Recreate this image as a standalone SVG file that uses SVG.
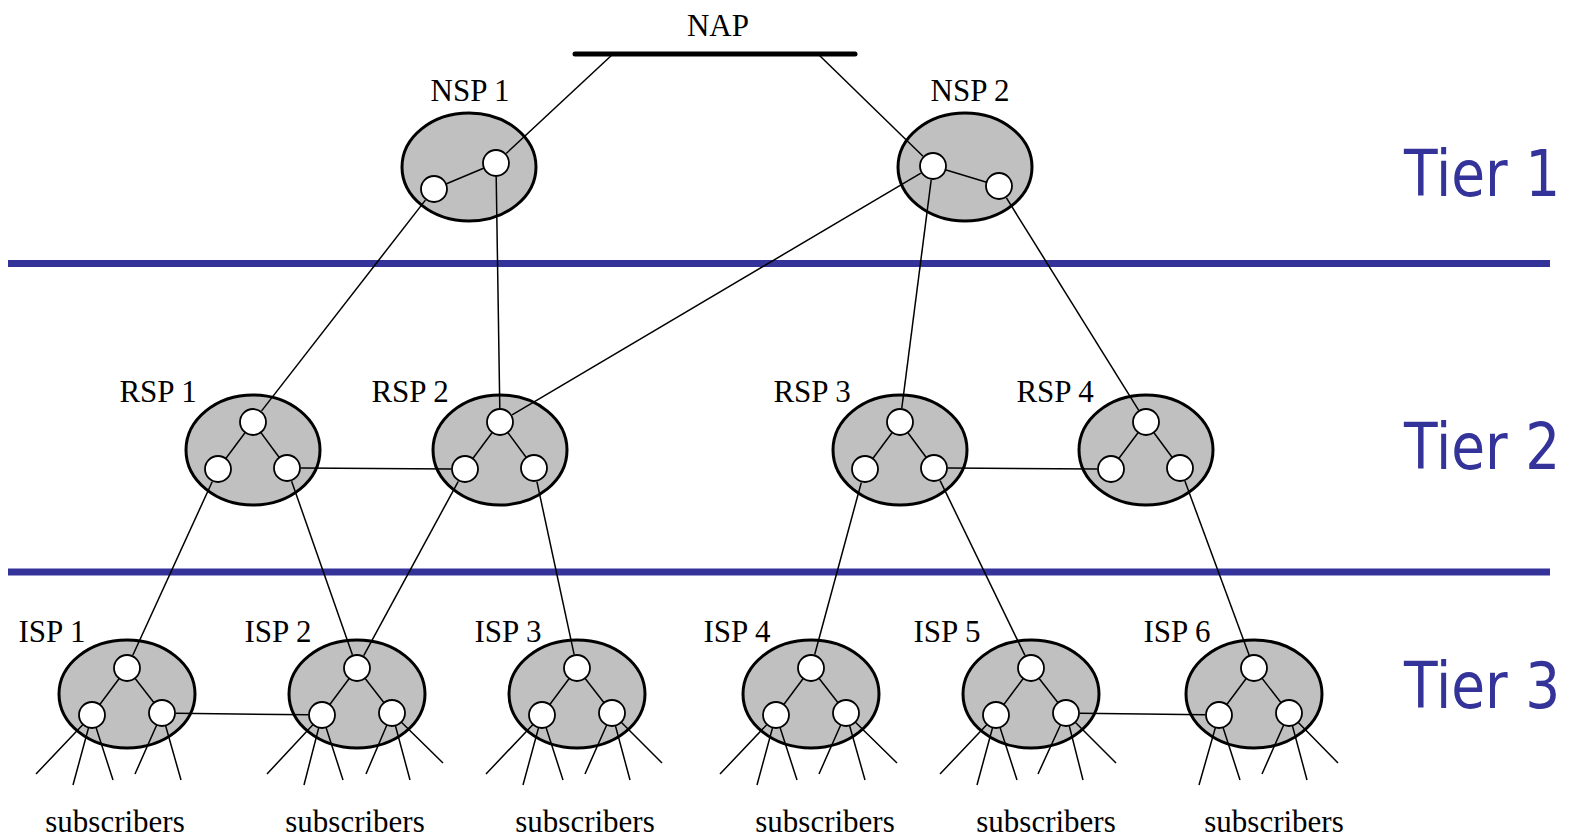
<svg xmlns="http://www.w3.org/2000/svg" width="1570" height="838" viewBox="0 0 1570 838">
<style>
  .lbl { font-family: "Liberation Serif", "Times New Roman", serif; font-size: 31px; fill: #000; text-anchor: middle; }
  .tier { font-family: "DejaVu Sans", Verdana, sans-serif; font-size: 64px; fill: #333399; }
  .ell { fill: #c0c0c0; stroke: #000; stroke-width: 3; }
  .dot { fill: #fff; stroke: #000; stroke-width: 1.8; }
  .ln { stroke: #000; stroke-width: 1.5; fill: none; }
  .sep { stroke: #333399; stroke-width: 7; }
</style>
<defs>
  <g id="tri">
    <line class="ln" x1="0" y1="-26" x2="-35" y2="21"/>
    <line class="ln" x1="0" y1="-26" x2="35" y2="19"/>
  </g>
</defs>
<rect width="1570" height="838" fill="#fff"/>

<!-- tier separators and labels -->
<g id="tiers">
  <line class="sep" x1="8" y1="263.5" x2="1550" y2="263.5"/>
  <line class="sep" x1="8" y1="572" x2="1550" y2="572"/>
  <text class="tier" transform="translate(1404,196) scale(0.86,1)">Tier 1</text>
  <text class="tier" transform="translate(1404,469) scale(0.86,1)">Tier 2</text>
  <text class="tier" transform="translate(1404,708) scale(0.86,1)">Tier 3</text>
</g>

<!-- NAP -->
<g id="nap">
  <line x1="575" y1="54" x2="855" y2="54" stroke="#000" stroke-width="5" stroke-linecap="round"/>
  <text class="lbl" x="718" y="36">NAP</text>
</g>

<!-- Tier 1 -->
<g id="nsp1">
  <ellipse class="ell" cx="469" cy="167" rx="67" ry="54"/>
  <line class="ln" x1="434" y1="189" x2="496" y2="163"/>
  <circle class="dot" cx="434" cy="189" r="13"/>
  <circle class="dot" cx="496" cy="163" r="13"/>
  <text class="lbl" x="470" y="101">NSP 1</text>
</g>
<g id="nsp2">
  <ellipse class="ell" cx="965" cy="167" rx="67" ry="54"/>
  <line class="ln" x1="933" y1="166" x2="999" y2="186"/>
  <circle class="dot" cx="933" cy="166" r="13"/>
  <circle class="dot" cx="999" cy="186" r="13"/>
  <text class="lbl" x="970" y="101">NSP 2</text>
</g>

<!-- Tier 2 -->
<g id="rsp1" transform="translate(253,450)">
  <ellipse class="ell" cx="0" cy="0" rx="67" ry="55"/>
  <line class="ln" x1="0" y1="-28" x2="-35" y2="19"/>
  <line class="ln" x1="0" y1="-28" x2="34" y2="18"/>
  <circle class="dot" cx="0" cy="-28" r="13"/>
  <circle class="dot" cx="-35" cy="19" r="13"/>
  <circle class="dot" cx="34" cy="18" r="13"/>
  <text class="lbl" x="-95" y="-48">RSP 1</text>
</g>
<g id="rsp2" transform="translate(500,450)">
  <ellipse class="ell" cx="0" cy="0" rx="67" ry="55"/>
  <line class="ln" x1="0" y1="-28" x2="-35" y2="19"/>
  <line class="ln" x1="0" y1="-28" x2="34" y2="18"/>
  <circle class="dot" cx="0" cy="-28" r="13"/>
  <circle class="dot" cx="-35" cy="19" r="13"/>
  <circle class="dot" cx="34" cy="18" r="13"/>
  <text class="lbl" x="-90" y="-48">RSP 2</text>
</g>
<g id="rsp3" transform="translate(900,450)">
  <ellipse class="ell" cx="0" cy="0" rx="67" ry="55"/>
  <line class="ln" x1="0" y1="-28" x2="-35" y2="19"/>
  <line class="ln" x1="0" y1="-28" x2="34" y2="18"/>
  <circle class="dot" cx="0" cy="-28" r="13"/>
  <circle class="dot" cx="-35" cy="19" r="13"/>
  <circle class="dot" cx="34" cy="18" r="13"/>
  <text class="lbl" x="-88" y="-48">RSP 3</text>
</g>
<g id="rsp4" transform="translate(1146,450)">
  <ellipse class="ell" cx="0" cy="0" rx="67" ry="55"/>
  <line class="ln" x1="0" y1="-28" x2="-35" y2="19"/>
  <line class="ln" x1="0" y1="-28" x2="34" y2="18"/>
  <circle class="dot" cx="0" cy="-28" r="13"/>
  <circle class="dot" cx="-35" cy="19" r="13"/>
  <circle class="dot" cx="34" cy="18" r="13"/>
  <text class="lbl" x="-91" y="-48">RSP 4</text>
</g>

<!-- Tier 3 -->
<g id="isp1" transform="translate(127,694)">
  <ellipse class="ell" cx="0" cy="0" rx="68" ry="54"/>
  <use href="#tri"/>
  <path class="ln" d="M-35 21L-91 80M-35 21L-54 91M-35 21L-14 86M35 19L8 80M35 19L54 86"/>
  <circle class="dot" cx="0" cy="-26" r="13"/>
  <circle class="dot" cx="-35" cy="21" r="13"/>
  <circle class="dot" cx="35" cy="19" r="13"/>
  <text class="lbl" x="-75" y="-52">ISP 1</text>
  <text class="lbl" x="-12" y="138">subscribers</text>
</g>
<g id="isp2" transform="translate(357,694)">
  <ellipse class="ell" cx="0" cy="0" rx="68" ry="54"/>
  <use href="#tri"/>
  <path class="ln" d="M-35 21L-90 80M-35 21L-53 91M-35 21L-14 86M35 19L9 80M35 19L53 86M35 19L86 69"/>
  <circle class="dot" cx="0" cy="-26" r="13"/>
  <circle class="dot" cx="-35" cy="21" r="13"/>
  <circle class="dot" cx="35" cy="19" r="13"/>
  <text class="lbl" x="-79" y="-52">ISP 2</text>
  <text class="lbl" x="-2" y="138">subscribers</text>
</g>
<g id="isp3" transform="translate(577,694)">
  <ellipse class="ell" cx="0" cy="0" rx="68" ry="54"/>
  <use href="#tri"/>
  <path class="ln" d="M-35 21L-91 80M-35 21L-54 91M-35 21L-14 86M35 19L8 80M35 19L53 86M35 19L85 69"/>
  <circle class="dot" cx="0" cy="-26" r="13"/>
  <circle class="dot" cx="-35" cy="21" r="13"/>
  <circle class="dot" cx="35" cy="19" r="13"/>
  <text class="lbl" x="-69" y="-52">ISP 3</text>
  <text class="lbl" x="8" y="138">subscribers</text>
</g>
<g id="isp4" transform="translate(811,694)">
  <ellipse class="ell" cx="0" cy="0" rx="68" ry="54"/>
  <use href="#tri"/>
  <path class="ln" d="M-35 21L-91 80M-35 21L-54 91M-35 21L-14 86M35 19L8 80M35 19L54 86M35 19L86 69"/>
  <circle class="dot" cx="0" cy="-26" r="13"/>
  <circle class="dot" cx="-35" cy="21" r="13"/>
  <circle class="dot" cx="35" cy="19" r="13"/>
  <text class="lbl" x="-74" y="-52">ISP 4</text>
  <text class="lbl" x="14" y="138">subscribers</text>
</g>
<g id="isp5" transform="translate(1031,694)">
  <ellipse class="ell" cx="0" cy="0" rx="68" ry="54"/>
  <use href="#tri"/>
  <path class="ln" d="M-35 21L-91 80M-35 21L-54 91M-35 21L-14 86M35 19L7 80M35 19L52 86M35 19L85 69"/>
  <circle class="dot" cx="0" cy="-26" r="13"/>
  <circle class="dot" cx="-35" cy="21" r="13"/>
  <circle class="dot" cx="35" cy="19" r="13"/>
  <text class="lbl" x="-84" y="-52">ISP 5</text>
  <text class="lbl" x="15" y="138">subscribers</text>
</g>
<g id="isp6" transform="translate(1254,694)">
  <ellipse class="ell" cx="0" cy="0" rx="68" ry="54"/>
  <use href="#tri"/>
  <path class="ln" d="M-35 21L-55 91M-35 21L-14 86M35 19L8 80M35 19L53 86M35 19L84 69"/>
  <circle class="dot" cx="0" cy="-26" r="13"/>
  <circle class="dot" cx="-35" cy="21" r="13"/>
  <circle class="dot" cx="35" cy="19" r="13"/>
  <text class="lbl" x="-77" y="-52">ISP 6</text>
  <text class="lbl" x="20" y="138">subscribers</text>
</g>

<!-- connectors -->
<g id="connectors" class="ln">
  <line x1="613" y1="54" x2="506.2" y2="153.5"/>
  <line x1="818" y1="54" x2="923" y2="156.2"/>
  <line x1="425.4" y1="200.1" x2="261.6" y2="410.9"/>
  <line x1="496.2" y1="177" x2="499.8" y2="408"/>
  <line x1="920.9" y1="173.1" x2="512.1" y2="414.9"/>
  <line x1="931.2" y1="179.9" x2="901.8" y2="408.1"/>
  <line x1="1006.4" y1="197.9" x2="1138.6" y2="410.1"/>
  <line x1="301" y1="468.1" x2="451" y2="468.9"/>
  <line x1="948" y1="468.1" x2="1097" y2="468.9"/>
  <line x1="212.2" y1="481.7" x2="132.8" y2="655.3"/>
  <line x1="291.6" y1="481.2" x2="352.4" y2="654.8"/>
  <line x1="458.3" y1="481.3" x2="363.7" y2="655.7"/>
  <line x1="536.9" y1="481.7" x2="574.1" y2="654.3"/>
  <line x1="861.3" y1="482.5" x2="814.7" y2="654.5"/>
  <line x1="940.1" y1="480.6" x2="1024.9" y2="655.4"/>
  <line x1="1184.9" y1="481.1" x2="1249.1" y2="654.9"/>
  <line x1="176" y1="713.2" x2="308" y2="714.8"/>
  <line x1="1080" y1="713.2" x2="1205" y2="714.8"/>
</g>
</svg>
